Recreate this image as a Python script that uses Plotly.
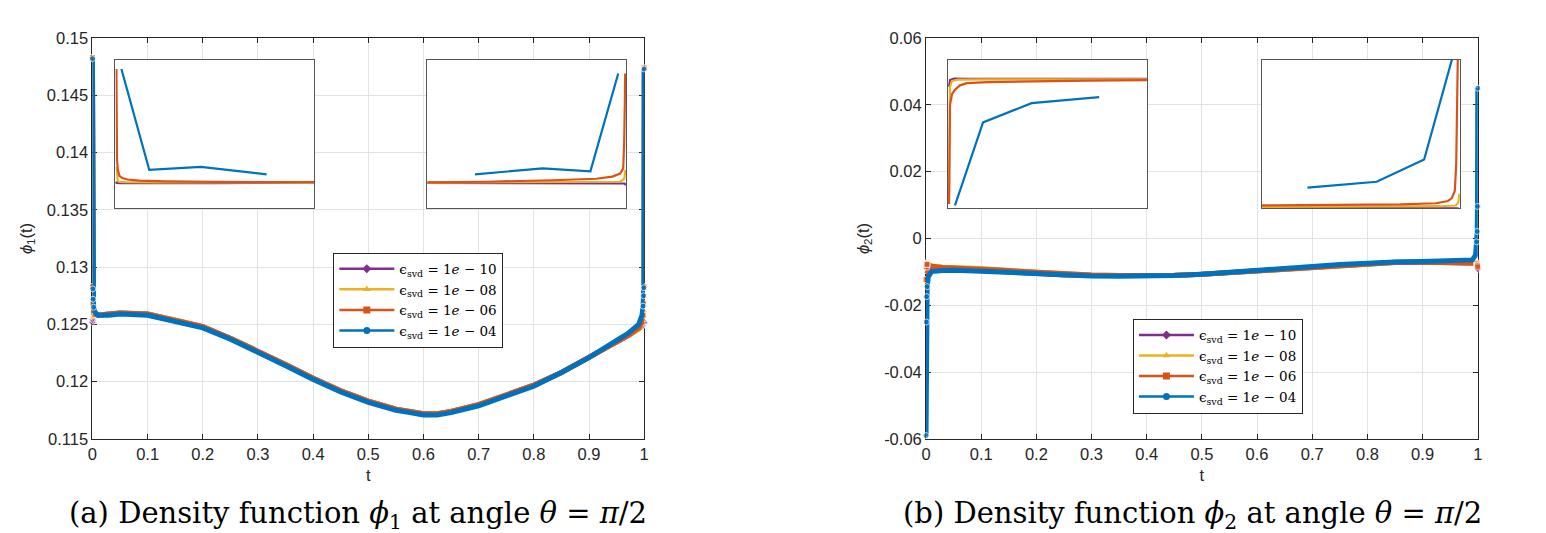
import plotly.graph_objects as go

# ---------------- data ----------------
t = [0, 0.0005, 0.001, 0.002, 0.004, 0.01, 0.03, 0.05, 0.1, 0.15, 0.2, 0.25, 0.3, 0.35,
     0.4, 0.45, 0.5, 0.55, 0.575, 0.6, 0.625, 0.65, 0.7, 0.75, 0.8, 0.85, 0.9, 0.95, 0.97, 0.99,
     0.996, 0.998, 0.999, 0.9995, 1]

phi1_e10 = [0.1252, 0.1254, 0.1255, 0.1256, 0.1257, 0.1258, 0.1259, 0.1260, 0.1259, 0.1254, 0.1248,
            0.1238, 0.1227, 0.1215, 0.1203, 0.1192, 0.1183, 0.1176, 0.1174, 0.1172, 0.1172, 0.1174,
            0.1180, 0.1188, 0.1197, 0.1208, 0.1221, 0.1235, 0.1240, 0.1246, 0.1248, 0.1249, 0.1250,
            0.1251, 0.1252]
phi1_e08 = [0.1262, 0.1257, 0.1256, 0.1257, 0.1258, 0.1258, 0.1259, 0.1260, 0.1259, 0.1254, 0.1248,
            0.1238, 0.1227, 0.1215, 0.1203, 0.1192, 0.1183, 0.1176, 0.1174, 0.1172, 0.1172, 0.1174,
            0.1180, 0.1188, 0.1197, 0.1208, 0.1221, 0.1235, 0.1240, 0.1246, 0.1249, 0.1251, 0.1254,
            0.1258, 0.1262]
phi1_e06 = [0.1483, 0.1283, 0.1268, 0.1262, 0.1259, 0.1258, 0.1259, 0.1260, 0.1259, 0.1254, 0.1248,
            0.1238, 0.1227, 0.1215, 0.1203, 0.1192, 0.1183, 0.1176, 0.1174, 0.1172, 0.1172, 0.1174,
            0.1180, 0.1188, 0.1197, 0.1208, 0.1221, 0.1235, 0.1240, 0.1247, 0.1252, 0.1258, 0.1268,
            0.1283, 0.1474]
phi1_e04 = [0.1482, 0.1281, 0.1272, 0.1265, 0.1261, 0.1258, 0.1258, 0.1259, 0.1258, 0.1253, 0.1247,
            0.1237, 0.1226, 0.1214, 0.1202, 0.1191, 0.1182, 0.1175, 0.1173, 0.1171, 0.1171, 0.1173,
            0.1179, 0.1187, 0.1196, 0.1208, 0.1221, 0.1236, 0.1242, 0.1250, 0.1258, 0.1266, 0.1275,
            0.1282, 0.1473]

phi2_e10 = [-0.0085, -0.0080, -0.0081, -0.0084, -0.0088, -0.0092, -0.0093, -0.0093, -0.0096, -0.0100,
            -0.0105, -0.0109, -0.0111, -0.0112, -0.0113, -0.0111, -0.0107, -0.0102, -0.0099, -0.0096,
            -0.0093, -0.0090, -0.0085, -0.0079, -0.0074, -0.0071, -0.0070, -0.0070, -0.0070, -0.0071,
            -0.0073, -0.0077, -0.0082, -0.0087, -0.0091]
phi2_e08 = [-0.0100, -0.0072, -0.0070, -0.0073, -0.0077, -0.0082, -0.0086, -0.0087, -0.0090, -0.0096,
            -0.0101, -0.0106, -0.0109, -0.0111, -0.0112, -0.0110, -0.0107, -0.0102, -0.0100, -0.0097,
            -0.0094, -0.0091, -0.0086, -0.0080, -0.0075, -0.0072, -0.0071, -0.0071, -0.0071, -0.0071,
            -0.0072, -0.0073, -0.0075, -0.0078, -0.0080]
phi2_e06 = [-0.0123, -0.0085, -0.0078, -0.0077, -0.0079, -0.0083, -0.0087, -0.0088, -0.0091, -0.0096,
            -0.0101, -0.0106, -0.0109, -0.0111, -0.0112, -0.0110, -0.0107, -0.0102, -0.0100, -0.0097,
            -0.0094, -0.0091, -0.0086, -0.0080, -0.0075, -0.0072, -0.0071, -0.0071, -0.0071, -0.0071,
            -0.0072, -0.0074, -0.0077, -0.0081, -0.0085]
phi2_e04 = [-0.0590, -0.0250, -0.0174, -0.0144, -0.0115, -0.0099, -0.0096, -0.0095, -0.0098, -0.0102,
            -0.0106, -0.0110, -0.0112, -0.0113, -0.0113, -0.0111, -0.0107, -0.0102, -0.0099, -0.0096,
            -0.0093, -0.0090, -0.0084, -0.0078, -0.0073, -0.0070, -0.0069, -0.0068, -0.0067, -0.0064,
            -0.0050, -0.0010, 0.0021, 0.0096, 0.0450]

# inset data (normalised inset coordinates)
insL1_x = {"e10": [0.0, 0.005, 0.02, 0.5, 1.0],
           "e08": [0.005, 0.008, 0.012, 0.02, 0.05, 0.2, 1.0],
           "e06": [0.005, 0.006, 0.008, 0.012, 0.02, 0.035, 0.06, 0.12, 0.25, 0.5, 1.0],
           "e04": [0.03, 0.17, 0.43, 0.76]}
insL1_y = {"e10": [0.18, 0.172, 0.171, 0.17, 0.175],
           "e08": [0.28, 0.2, 0.185, 0.179, 0.177, 0.176, 0.176],
           "e06": [0.94, 0.6, 0.33, 0.26, 0.22, 0.205, 0.195, 0.187, 0.182, 0.179, 0.177],
           "e04": [0.94, 0.26, 0.28, 0.23]}

insL2_x = {"e10": [0.0, 0.5, 0.95, 0.99, 1.0],
           "e08": [0.0, 0.5, 0.9, 0.97, 0.99, 0.996],
           "e06": [0.0, 0.3, 0.63, 0.85, 0.93, 0.97, 0.985, 0.99, 0.993, 0.995],
           "e04": [0.24, 0.58, 0.82, 0.96]}
insL2_y = {"e10": [0.172, 0.172, 0.172, 0.168, 0.16],
           "e08": [0.174, 0.175, 0.176, 0.18, 0.2, 0.26],
           "e06": [0.176, 0.18, 0.19, 0.2, 0.215, 0.235, 0.27, 0.45, 0.7, 0.91],
           "e04": [0.23, 0.27, 0.25, 0.91]}

insR1_x = {"e10": [0.005, 0.01, 0.03, 0.1, 1.0],
           "e08": [0.005, 0.006, 0.01, 0.02, 0.05, 0.2, 1.0],
           "e06": [0.005, 0.006, 0.01, 0.02, 0.035, 0.06, 0.095, 0.2, 0.41, 0.7, 1.0],
           "e04": [0.035, 0.176, 0.42, 0.76]}
insR1_y = {"e10": [0.82, 0.865, 0.875, 0.873, 0.873],
           "e08": [0.03, 0.6, 0.82, 0.86, 0.868, 0.87, 0.87],
           "e06": [0.03, 0.4, 0.70, 0.77, 0.80, 0.83, 0.845, 0.852, 0.858, 0.862, 0.865],
           "e04": [0.02, 0.58, 0.71, 0.75]}

insR2_x = {"e10": [0.0, 0.5, 0.95, 0.99, 1.0],
           "e08": [0.0, 0.5, 0.9, 0.98, 0.993, 0.998],
           "e06": [0.0, 0.4, 0.7, 0.88, 0.94, 0.96, 0.975, 0.982, 0.986, 0.99],
           "e04": [0.23, 0.58, 0.82, 0.97]}
insR2_y = {"e10": [0.005, 0.005, 0.003, 0.0, -0.01],
           "e08": [0.01, 0.012, 0.015, 0.02, 0.04, 0.1],
           "e06": [0.02, 0.022, 0.027, 0.035, 0.05, 0.07, 0.12, 0.3, 0.65, 1.02],
           "e04": [0.14, 0.18, 0.33, 1.05]}

series_keys = ["e10", "e08", "e06", "e04"]
legend_labels = ["ϵ<sub>svd</sub> = 1<i>e</i> − 10", "ϵ<sub>svd</sub> = 1<i>e</i> − 08",
                 "ϵ<sub>svd</sub> = 1<i>e</i> − 06", "ϵ<sub>svd</sub> = 1<i>e</i> − 04"]

x_tickvals = [0, 0.1, 0.2, 0.3, 0.4, 0.5, 0.6, 0.7, 0.8, 0.9, 1]
x_ticktext = ["0", "0.1", "0.2", "0.3", "0.4", "0.5", "0.6", "0.7", "0.8", "0.9", "1"]
y1_tickvals = [0.115, 0.12, 0.125, 0.13, 0.135, 0.14, 0.145, 0.15]
y1_ticktext = ["0.115", "0.12", "0.125", "0.13", "0.135", "0.14", "0.145", "0.15"]
y2_tickvals = [-0.06, -0.04, -0.02, 0, 0.02, 0.04, 0.06]
y2_ticktext = ["-0.06", "-0.04", "-0.02", "0", "0.02", "0.04", "0.06"]

caption_a = "(a) Density function <i>ϕ</i><sub>1</sub> at angle <i>θ</i> = <i>π</i>/2"
caption_b = "(b) Density function <i>ϕ</i><sub>2</sub> at angle <i>θ</i> = <i>π</i>/2"

# ---------------- styling ----------------
# the photographed page maps figure pixels to picture pixels roughly as
# X = 4.5 + 0.994 * fx,  Y = 8 + 0.965 * fy ; layout targets are given in picture pixels
OX, SX, OY, SY = 4.5, 0.994, 8.0, 0.965
W, H = 1540, 548
colors = {"e10": "#7E2F8E", "e08": "#EDB120", "e06": "#D95319", "e04": "#0072BD"}
symbols = {"e10": "diamond", "e08": "triangle-up", "e06": "square", "e04": "circle"}
AX = "#262626"
GRID = "#e3e3e3"
SANS = "Liberation Sans, Arial, sans-serif"
SERIF = "DejaVu Serif, Liberation Serif, serif"


def fx(X):
    return ((X - OX) / SX) / W


def fy(Y):
    return 1 - ((Y - OY) / SY) / H


msize = [6 if (v <= 0.002 or v >= 0.998) else 0 for v in t]

fig = go.Figure()

main1 = {"e10": phi1_e10, "e08": phi1_e08, "e06": phi1_e06, "e04": phi1_e04}
main2 = {"e10": phi2_e10, "e08": phi2_e08, "e06": phi2_e06, "e04": phi2_e04}

for k in series_keys:
    fig.add_trace(go.Scatter(x=t, y=main1[k], xaxis="x", yaxis="y", mode="lines+markers",
                             line=dict(color=colors[k], width=5),
                             marker=dict(symbol=symbols[k], size=msize, color=colors[k]),
                             cliponaxis=False, showlegend=False))
for k in series_keys:
    fig.add_trace(go.Scatter(x=t, y=main2[k], xaxis="x2", yaxis="y2", mode="lines+markers",
                             line=dict(color=colors[k], width=5),
                             marker=dict(symbol=symbols[k], size=msize, color=colors[k]),
                             cliponaxis=False, showlegend=False))

insets = [(insL1_x, insL1_y, "x3", "y3"), (insL2_x, insL2_y, "x4", "y4"),
          (insR1_x, insR1_y, "x5", "y5"), (insR2_x, insR2_y, "x6", "y6")]
for ix, iy, xa, ya in insets:
    for k in series_keys:
        fig.add_trace(go.Scatter(x=ix[k], y=iy[k], xaxis=xa, yaxis=ya, mode="lines",
                                 line=dict(color=colors[k], width=2.2), showlegend=False))

# legend entries
for lg in ["legend", "legend2"]:
    for k, lab in zip(series_keys, legend_labels):
        fig.add_trace(go.Scatter(x=[None], y=[None], xaxis="x" if lg == "legend" else "x2",
                                 yaxis="y" if lg == "legend" else "y2",
                                 mode="lines+markers", name=lab, legend=lg,
                                 line=dict(color=colors[k], width=2.5),
                                 marker=dict(symbol=symbols[k], size=7, color=colors[k])))


def main_axis(domain, rng, tv, tt, anchor, title, standoff):
    return dict(domain=domain, range=rng, anchor=anchor, tickvals=tv, ticktext=tt,
                showgrid=True, gridcolor=GRID, gridwidth=1, zeroline=False,
                showline=True, linecolor=AX, linewidth=1, mirror="ticks",
                ticks="inside", ticklen=5, tickcolor=AX, tickwidth=1,
                tickfont=dict(family=SANS, size=16.5, color=AX),
                title=dict(text=title, font=dict(family=SANS, size=16.5, color=AX),
                           standoff=standoff),
                layer="below traces")


def inset_axis(domain, anchor):
    return dict(domain=domain, range=[0, 1], anchor=anchor, showgrid=False, zeroline=False,
                showticklabels=False, ticks="", showline=True, mirror=True,
                linecolor="#555555", linewidth=1.2)


legend_common = dict(bgcolor="white", bordercolor=AX, borderwidth=1,
                     font=dict(family=SERIF, size=13.5, color="black"),
                     xanchor="left", yanchor="top", itemwidth=55, tracegroupgap=0)

fig.update_layout(
    width=W, height=H, autosize=False,
    margin=dict(l=0, r=0, t=0, b=0),
    paper_bgcolor="white", plot_bgcolor="white",
    xaxis=main_axis([fx(92), fx(644)], [0, 1], x_tickvals, x_ticktext, "y", "t", 7),
    yaxis=main_axis([fy(437), fy(37)], [0.115, 0.15], y1_tickvals, y1_ticktext, "x",
                    "<i>ϕ</i><sub>1</sub>(t)", 10),
    xaxis2=main_axis([fx(926), fx(1478)], [0, 1], x_tickvals, x_ticktext, "y2", "t", 7),
    yaxis2=main_axis([fy(437), fy(37)], [-0.06, 0.06], y2_tickvals, y2_ticktext, "x2",
                     "<i>ϕ</i><sub>2</sub>(t)", 10),
    xaxis3=inset_axis([fx(115), fx(314)], "y3"),
    yaxis3=inset_axis([fy(207), fy(59)], "x3"),
    xaxis4=inset_axis([fx(427), fx(626)], "y4"),
    yaxis4=inset_axis([fy(207), fy(59)], "x4"),
    xaxis5=inset_axis([fx(948), fx(1147)], "y5"),
    yaxis5=inset_axis([fy(207), fy(59)], "x5"),
    xaxis6=inset_axis([fx(1262), fx(1460)], "y6"),
    yaxis6=inset_axis([fy(207), fy(59)], "x6"),
    legend=dict(x=fx(333), y=fy(251), **legend_common),
    legend2=dict(x=fx(1133), y=fy(317), **legend_common),
    annotations=[
        dict(text=caption_a, x=fx(358), y=fy(513), xref="paper", yref="paper",
             showarrow=False, xanchor="center", yanchor="middle",
             font=dict(family=SERIF, size=29, color="black")),
        dict(text=caption_b, x=fx(1193), y=fy(513), xref="paper", yref="paper",
             showarrow=False, xanchor="center", yanchor="middle",
             font=dict(family=SERIF, size=29, color="black")),
    ],
)

fig.write_html("out.html", config={"displayModeBar": False})
